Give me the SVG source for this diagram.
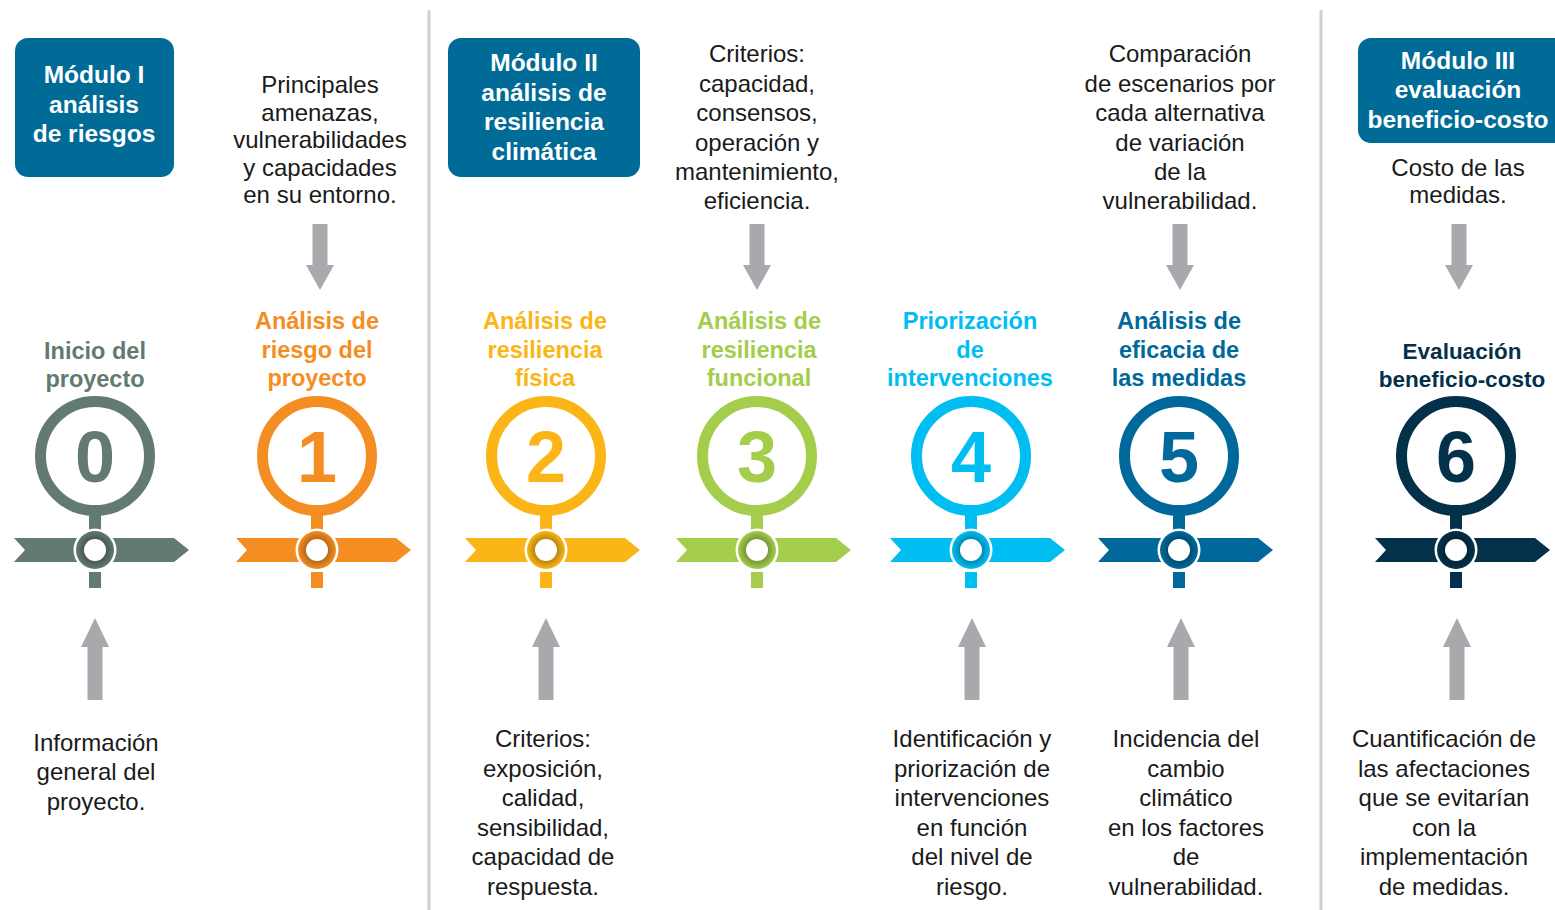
<svg xmlns="http://www.w3.org/2000/svg" width="1555" height="910" viewBox="0 0 1555 910">
<defs>
<style>
.body{font-family:"Liberation Sans",Arial,sans-serif;font-size:24px;fill:#1a1a1a;text-anchor:middle}
.ttl{font-family:"Liberation Sans",Arial,sans-serif;font-size:23.5px;font-weight:bold;text-anchor:middle}
.ttl6{font-size:22.5px}
.mod{font-family:"Liberation Sans",Arial,sans-serif;font-size:24.5px;font-weight:bold;fill:#fff;text-anchor:middle}
.num{font-family:"Liberation Sans",Arial,sans-serif;font-size:72px;font-weight:bold;text-anchor:middle}
.modbox{fill:#006b96}
.arr{fill:#a7a9ac}
.sep{stroke:#d0d0d0;stroke-width:3}
</style>
<radialGradient id="shade" cx="0.5" cy="0.5" r="0.5">
<stop offset="0.55" stop-color="#000" stop-opacity="0.28"/>
<stop offset="1" stop-color="#000" stop-opacity="0"/>
</radialGradient>
<g id="marker">
<path d="M-81,538 H79 L94,550 L79,562 H-81 L-70,550 Z" stroke="none"/>
<rect x="-6" y="512" width="12" height="26" stroke="none"/>
<rect x="-6" y="572" width="12" height="16" stroke="none"/>
<circle cx="0" cy="456" r="54.5" fill="none" stroke-width="11"/>
<circle cx="0" cy="550" r="21.5" fill="#fff" stroke="none"/>
<circle cx="0" cy="550" r="19" stroke="none"/>
<circle cx="0" cy="550" r="19" fill="url(#shade)" stroke="none"/>
<circle cx="0" cy="550" r="11" fill="#fff" stroke="none"/>
</g>
<path id="down" d="M-7.5,224 H7.5 V265 H14 L0,290 L-14,265 H-7.5 Z"/>
<path id="up" d="M-7.5,700 H7.5 V647 H14 L0,618 L-14,647 H-7.5 Z"/>
</defs>
<rect width="1555" height="910" fill="#fff"/>
<g id="separators">
<line class="sep" x1="429" y1="10" x2="429" y2="910"/>
<line class="sep" x1="1321" y1="10" x2="1321" y2="910"/>
</g>
<g id="modulo-1">
<rect class="modbox" x="15" y="38" width="159" height="139" rx="13"/>
<text class="mod" x="94" y="83">Módulo I</text>
<text class="mod" x="94" y="113">análisis</text>
<text class="mod" x="94" y="142">de riesgos</text>
</g>
<g id="modulo-2">
<rect class="modbox" x="448" y="38" width="192" height="139" rx="13"/>
<text class="mod" x="544" y="71">Módulo II</text>
<text class="mod" x="544" y="101">análisis de</text>
<text class="mod" x="544" y="130">resiliencia</text>
<text class="mod" x="544" y="160">climática</text>
</g>
<g id="modulo-3">
<rect class="modbox" x="1358" y="38" width="210" height="105" rx="13"/>
<text class="mod" x="1458" y="69">Módulo III</text>
<text class="mod" x="1458" y="98">evaluación</text>
<text class="mod" x="1458" y="128">beneficio-costo</text>
</g>
<g id="connectors" class="arr">
<use href="#down" x="320"/>
<use href="#down" x="757"/>
<use href="#down" x="1180"/>
<use href="#down" x="1459"/>
<use href="#up" x="95"/>
<use href="#up" x="546"/>
<use href="#up" x="972"/>
<use href="#up" x="1181"/>
<use href="#up" x="1457"/>
</g>
<g id="step-0">
<use href="#marker" x="95" fill="#627a70" stroke="#627a70"/>
<text class="num" x="95" y="482" fill="#627a70">0</text>
<text class="ttl" x="95" y="359" fill="#627a70">Inicio del</text>
<text class="ttl" x="95" y="387" fill="#627a70">proyecto</text>
<text class="body" x="96" y="751">Información</text>
<text class="body" x="96" y="780">general del</text>
<text class="body" x="96" y="810">proyecto.</text>
</g>
<g id="step-1">
<use href="#marker" x="317" fill="#f58e22" stroke="#f58e22"/>
<text class="num" x="317" y="482" fill="#f58e22">1</text>
<text class="ttl" x="317" y="329" fill="#f58e22">Análisis de</text>
<text class="ttl" x="317" y="358" fill="#f58e22">riesgo del</text>
<text class="ttl" x="317" y="386" fill="#f58e22">proyecto</text>
<text class="body" x="320" y="93">Principales</text>
<text class="body" x="320" y="120.5">amenazas,</text>
<text class="body" x="320" y="148">vulnerabilidades</text>
<text class="body" x="320" y="175.5">y capacidades</text>
<text class="body" x="320" y="203">en su entorno.</text>
</g>
<g id="step-2">
<use href="#marker" x="546" fill="#fbb516" stroke="#fbb516"/>
<text class="num" x="546" y="482" fill="#fbb516">2</text>
<text class="ttl" x="545" y="329" fill="#fbb516">Análisis de</text>
<text class="ttl" x="545" y="358" fill="#fbb516">resiliencia</text>
<text class="ttl" x="545" y="386" fill="#fbb516">física</text>
<text class="body" x="543" y="747">Criterios:</text>
<text class="body" x="543" y="777">exposición,</text>
<text class="body" x="543" y="806">calidad,</text>
<text class="body" x="543" y="836">sensibilidad,</text>
<text class="body" x="543" y="865">capacidad de</text>
<text class="body" x="543" y="895">respuesta.</text>
</g>
<g id="step-3">
<use href="#marker" x="757" fill="#a3cd4a" stroke="#a3cd4a"/>
<text class="num" x="757" y="482" fill="#a3cd4a">3</text>
<text class="ttl" x="759" y="329" fill="#a3cd4a">Análisis de</text>
<text class="ttl" x="759" y="358" fill="#a3cd4a">resiliencia</text>
<text class="ttl" x="759" y="386" fill="#a3cd4a">funcional</text>
<text class="body" x="757" y="62">Criterios:</text>
<text class="body" x="757" y="91.5">capacidad,</text>
<text class="body" x="757" y="121">consensos,</text>
<text class="body" x="757" y="150.5">operación y</text>
<text class="body" x="757" y="180">mantenimiento,</text>
<text class="body" x="757" y="209">eficiencia.</text>
</g>
<g id="step-4">
<use href="#marker" x="971" fill="#00bdf2" stroke="#00bdf2"/>
<text class="num" x="971" y="482" fill="#00bdf2">4</text>
<text class="ttl" x="970" y="329" fill="#00bdf2">Priorización</text>
<text class="ttl" x="970" y="358" fill="#00bdf2">de</text>
<text class="ttl" x="970" y="386" fill="#00bdf2">intervenciones</text>
<text class="body" x="972" y="747">Identificación y</text>
<text class="body" x="972" y="777">priorización de</text>
<text class="body" x="972" y="806">intervenciones</text>
<text class="body" x="972" y="836">en función</text>
<text class="body" x="972" y="865">del nivel de</text>
<text class="body" x="972" y="895">riesgo.</text>
</g>
<g id="step-5">
<use href="#marker" x="1179" fill="#00689a" stroke="#00689a"/>
<text class="num" x="1179" y="482" fill="#00689a">5</text>
<text class="ttl" x="1179" y="329" fill="#00689a">Análisis de</text>
<text class="ttl" x="1179" y="358" fill="#00689a">eficacia de</text>
<text class="ttl" x="1179" y="386" fill="#00689a">las medidas</text>
<text class="body" x="1180" y="62">Comparación</text>
<text class="body" x="1180" y="91.5">de escenarios por</text>
<text class="body" x="1180" y="121">cada alternativa</text>
<text class="body" x="1180" y="150.5">de variación</text>
<text class="body" x="1180" y="180">de la</text>
<text class="body" x="1180" y="209">vulnerabilidad.</text>
<text class="body" x="1186" y="747">Incidencia del</text>
<text class="body" x="1186" y="777">cambio</text>
<text class="body" x="1186" y="806">climático</text>
<text class="body" x="1186" y="836">en los factores</text>
<text class="body" x="1186" y="865">de</text>
<text class="body" x="1186" y="895">vulnerabilidad.</text>
</g>
<g id="step-6">
<use href="#marker" x="1456" fill="#04314a" stroke="#04314a"/>
<text class="num" x="1456" y="482" fill="#04314a">6</text>
<text class="ttl ttl6" x="1462" y="359" fill="#04314a">Evaluación</text>
<text class="ttl ttl6" x="1462" y="387" fill="#04314a">beneficio-costo</text>
<text class="body" x="1458" y="176">Costo de las</text>
<text class="body" x="1458" y="203">medidas.</text>
<text class="body" x="1444" y="747">Cuantificación de</text>
<text class="body" x="1444" y="777">las afectaciones</text>
<text class="body" x="1444" y="806">que se evitarían</text>
<text class="body" x="1444" y="836">con la</text>
<text class="body" x="1444" y="865">implementación</text>
<text class="body" x="1444" y="895">de medidas.</text>
</g>
</svg>
